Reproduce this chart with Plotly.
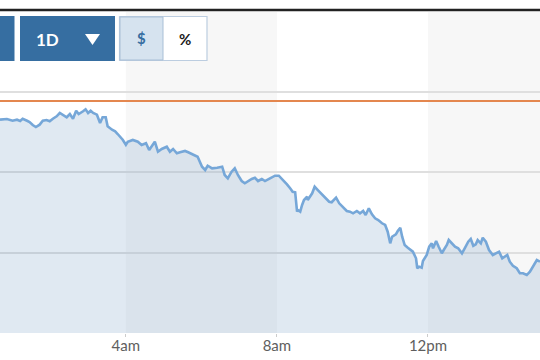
import plotly.graph_objects as go

DAY = "2024-03-15 "

times = [
    "00:40", "00:51", "01:00", "01:07", "01:12", "01:16", "01:23", "01:27", "01:32", "01:37",
    "01:43", "01:48", "01:54", "01:59", "02:04", "02:10", "02:15", "02:20", "02:26", "02:31",
    "02:36", "02:41", "02:45", "02:52", "02:56", "03:00", "03:04", "03:08", "03:14", "03:19",
    "03:23", "03:28", "03:31", "03:38", "03:43", "03:47", "03:55", "04:00",
    "04:03", "04:11", "04:19", "04:25", "04:32", "04:37", "04:41", "04:46", "04:51", "04:57",
    "05:05", "05:10", "05:15", "05:21", "05:26", "05:34", "05:39", "05:45", "05:50", "05:54",
    "06:01", "06:06", "06:10", "06:17", "06:25", "06:33", "06:37", "06:42", "06:48", "06:53",
    "06:58", "07:04", "07:09", "07:14", "07:20", "07:25", "07:30", "07:36", "07:41", "07:49",
    "07:57", "08:03", "08:10", "08:16", "08:21", "08:25", "08:29", "08:32", "08:33", "08:37",
    "08:40", "08:43", "08:48", "08:49", "08:56", "09:00", "09:05", "09:10", "09:16", "09:23",
    "09:27", "09:34", "09:39", "09:45", "09:51", "09:56", "10:01", "10:07", "10:12", "10:17",
    "10:21", "10:26", "10:31", "10:36", "10:41", "10:47", "10:52", "10:56", "11:00", "11:03",
    "11:09", "11:12", "11:16", "11:19",
    "11:23", "11:28", "11:36", "11:41", "11:43", "11:46", "11:50", "11:52", "11:58", "12:02",
    "12:06", "12:08", "12:13", "12:17", "12:22", "12:25", "12:30", "12:33", "12:38", "12:43",
    "12:48", "12:54", "12:59", "13:04", "13:08", "13:12", "13:16", "13:19", "13:24", "13:27",
    "13:32", "13:37", "13:43", "13:48", "13:53", "13:58", "14:02", "14:06", "14:10", "14:15",
    "14:21", "14:26", "14:31", "14:37", "14:42", "14:47", "14:53", "14:58",
]

prices = [
    2.650, 2.658, 2.637, 2.650, 2.634, 2.662, 2.637, 2.621, 2.584, 2.559,
    2.588, 2.637, 2.646, 2.630, 2.662, 2.692, 2.733, 2.712, 2.680, 2.720,
    2.662, 2.761, 2.720, 2.754, 2.779, 2.733, 2.761, 2.733, 2.712, 2.609,
    2.680, 2.680, 2.568, 2.525, 2.506, 2.472, 2.401, 2.339,
    2.376, 2.398, 2.376, 2.335, 2.357, 2.273, 2.327, 2.376, 2.252, 2.286,
    2.314, 2.252, 2.286, 2.232, 2.245, 2.261, 2.245, 2.220, 2.202, 2.190,
    2.066, 2.025, 2.078, 2.046, 2.053, 2.066, 1.963, 1.922, 2.004, 2.046,
    1.963, 1.888, 1.860, 1.888, 1.913, 1.929, 1.888, 1.913, 1.888, 1.922,
    1.954, 1.954, 1.901, 1.847, 1.798, 1.755, 1.748, 1.507, 1.528, 1.507,
    1.590, 1.652, 1.693, 1.652, 1.735, 1.817, 1.776, 1.735, 1.693, 1.631,
    1.624, 1.681, 1.611, 1.569, 1.516, 1.507, 1.487, 1.516, 1.487, 1.516,
    1.466, 1.549, 1.475, 1.425, 1.404, 1.363, 1.342, 1.258, 1.114, 1.196,
    1.226, 1.267, 1.308, 1.196,
    1.093, 1.060, 1.010, 0.928, 0.804, 0.824, 0.811, 0.894, 0.969, 1.072,
    1.114, 1.052, 1.143, 1.072, 0.990, 1.031, 1.093, 1.155, 1.114, 1.072,
    1.052, 0.990, 1.060, 1.134, 1.168, 1.084, 1.102, 1.155, 1.114, 1.184,
    1.134, 1.031, 0.969, 0.990, 1.010, 0.928, 0.948, 0.969, 0.886, 0.836,
    0.804, 0.742, 0.742, 0.720, 0.761, 0.824, 0.907, 0.886,
]

prev_close = 2.882

tick_times = ["04:00", "08:00", "12:00"]
tick_labels = ["4am", "8am", "12pm"]

shaded_bands = [("04:00", "08:00"), ("12:00", "16:00")]

x_start, x_end = "00:40", "14:58"

W, H = 540, 360
M_T, M_B = 12, 27
PLOT_H = H - M_T - M_B


def px(x):
    return x / W


def py(y):
    return (H - M_B - y) / PLOT_H


BLUE = "#366ea1"

fig = go.Figure()
fig.add_trace(go.Scatter(
    x=[DAY + t for t in times], y=prices,
    mode="lines",
    line=dict(color="#76a7d8", width=2.6),
    fill="tozeroy",
    fillcolor="rgba(125,165,200,0.24)",
    hoverinfo="skip",
))

shapes = []
for a, b in shaded_bands:
    shapes.append(dict(type="rect", xref="x", yref="paper", x0=DAY + a, x1=DAY + b,
                       y0=0, y1=1, fillcolor="#f7f7f7", line=dict(width=0), layer="below"))
# previous close line
shapes.append(dict(type="line", xref="paper", yref="y", x0=0, x1=1, y0=prev_close, y1=prev_close,
                   line=dict(color="#e4874f", width=1.8)))
# top dark rule
shapes.append(dict(type="line", xref="paper", yref="paper", x0=0, x1=1, y0=py(10), y1=py(10),
                   line=dict(color="#222222", width=2.5)))
# buttons
shapes.append(dict(type="rect", xref="paper", yref="paper", x0=px(-10), x1=px(14.5),
                   y0=py(61), y1=py(16), fillcolor=BLUE, line=dict(width=0)))
shapes.append(dict(type="rect", xref="paper", yref="paper", x0=px(20), x1=px(115),
                   y0=py(61), y1=py(16), fillcolor=BLUE, line=dict(width=0)))
shapes.append(dict(type="path", xref="paper", yref="paper",
                   path=f"M {px(85)} {py(34)} L {px(100)} {py(34)} L {px(92.5)} {py(45)} Z",
                   fillcolor="white", line=dict(width=0)))
shapes.append(dict(type="rect", xref="paper", yref="paper", x0=px(119.5), x1=px(207),
                   y0=py(60.5), y1=py(16.5), fillcolor="white", line=dict(color="#bccde0", width=1.2)))
shapes.append(dict(type="rect", xref="paper", yref="paper", x0=px(120), x1=px(163),
                   y0=py(60), y1=py(17), fillcolor="#d6e3ef", line=dict(color="#a9bfd6", width=1)))

annotations = [
    dict(text="<b>1D</b>", x=px(47), y=py(39), xref="paper", yref="paper", showarrow=False,
         font=dict(family="Lato", size=17, color="white"), xanchor="center", yanchor="middle"),
    dict(text="<b>$</b>", x=px(141.5), y=py(38), xref="paper", yref="paper", showarrow=False,
         font=dict(family="Lato", size=15, color=BLUE), xanchor="center", yanchor="middle"),
    dict(text="<b>%</b>", x=px(185), y=py(39), xref="paper", yref="paper", showarrow=False,
         font=dict(family="Lato", size=15, color="#1a1a1a"), xanchor="center", yanchor="middle"),
]

fig.update_layout(
    width=W, height=H,
    margin=dict(l=0, r=0, t=M_T, b=M_B, pad=0),
    paper_bgcolor="white", plot_bgcolor="white",
    showlegend=False,
    shapes=shapes,
    annotations=annotations,
    xaxis=dict(
        type="date",
        range=[DAY + x_start, DAY + x_end],
        tickvals=[DAY + t for t in tick_times],
        ticktext=tick_labels,
        showgrid=False, zeroline=False, showline=False,
        ticks="outside", ticklen=3, tickcolor="#cccccc",
        ticklabelstandoff=-4,
        tickfont=dict(family="Lato", size=15, color="#5e5e5e"),
    ),
    yaxis=dict(
        range=[0, PLOT_H / 80.5],
        tick0=0, dtick=1,
        showticklabels=False,
        showgrid=True, gridcolor="#dfdfdf", gridwidth=1.6,
        zeroline=False, showline=False,
    ),
)

fig.write_html(
    "out.html",
    config={"displayModeBar": False},
    post_script="document.body.style.margin='0';document.body.style.overflow='hidden';",
)
